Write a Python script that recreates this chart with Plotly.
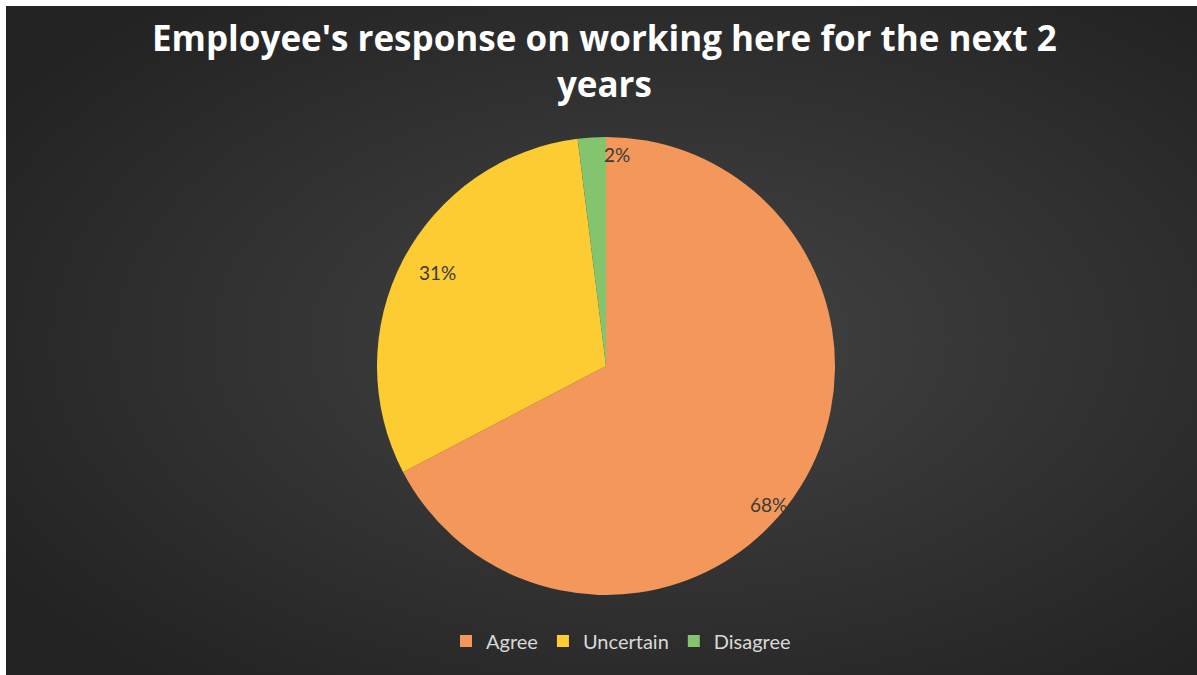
import base64
import math
import plotly.graph_objects as go

# Survey responses (percent of employees)
categories = ["Agree", "Uncertain", "Disagree"]
values = [68, 31, 2]
label_texts = [f"{v}%" for v in values]

slice_colors = ["#F3985A", "#FDCB32", "#84C46E"]

W, H = 1197, 675
# pie placement in pixels
cx, cy, r = 606, 366, 229

# radial-gradient panel behind the chart
svg = (
    '<svg xmlns="http://www.w3.org/2000/svg" width="1191" height="669" '
    'viewBox="0 0 1191 669" preserveAspectRatio="none">'
    '<defs><radialGradient id="g" cx="55%" cy="50%" r="65%">'
    '<stop offset="0%" stop-color="#444444"/>'
    '<stop offset="100%" stop-color="#232323"/>'
    '</radialGradient></defs>'
    '<rect width="1191" height="669" fill="url(#g)"/></svg>'
)
bg_src = "data:image/svg+xml;base64," + base64.b64encode(svg.encode()).decode()

fig = go.Figure()
fig.add_trace(go.Pie(
    labels=categories,
    values=values,
    sort=False,
    direction="clockwise",
    rotation=0,
    marker=dict(colors=slice_colors, line=dict(width=0)),
    textinfo="none",
    hoverinfo="label+value",
    domain=dict(x=[(cx - 300) / W, (cx + 300) / W],
                y=[1 - (cy + r) / H, 1 - (cy - r) / H]),
))

# data labels placed at each slice's mid-angle
label_radius = 0.88
label_nudge = [(-10, -48), (10, 0), (24, 24)]
total = sum(values)
cum = 0
for v, txt, (dx, dy) in zip(values, label_texts, label_nudge):
    mid = (cum + v / 2) / total * 2 * math.pi
    cum += v
    px = cx + label_radius * r * math.sin(mid)
    py = cy - label_radius * r * math.cos(mid)
    fig.add_annotation(
        x=px / W, y=1 - py / H, xref="paper", yref="paper",
        text=txt, showarrow=False, xshift=dx, yshift=dy,
        font=dict(family="Lato", size=19, color="#3A3A3A"),
    )

# chart title
fig.add_annotation(
    text="Employee's response on working here for the next 2<br>years",
    x=604 / W, xanchor="center", y=1 - 12 / H, yanchor="top",
    xref="paper", yref="paper", showarrow=False,
    font=dict(family="Open Sans", size=35, color="#FFFFFF", weight="bold"),
)

fig.add_layout_image(
    source=bg_src, xref="paper", yref="paper",
    x=6 / W, y=1 - 6 / H, sizex=1 - 6 / W, sizey=1 - 6 / H,
    xanchor="left", yanchor="top", sizing="stretch", layer="below",
)

fig.update_layout(
    width=W, height=H,
    margin=dict(l=0, r=0, t=0, b=0),
    paper_bgcolor="#FFFFFF",
    plot_bgcolor="rgba(0,0,0,0)",
    legend=dict(
        orientation="h", x=621 / W, xanchor="center", y=1 - 641 / H, yanchor="middle",
        font=dict(family="Lato", size=20, color="#D9D9D9"),
        bgcolor="rgba(0,0,0,0)", itemwidth=30, traceorder="normal",
    ),
)

fig.write_html("out.html")
